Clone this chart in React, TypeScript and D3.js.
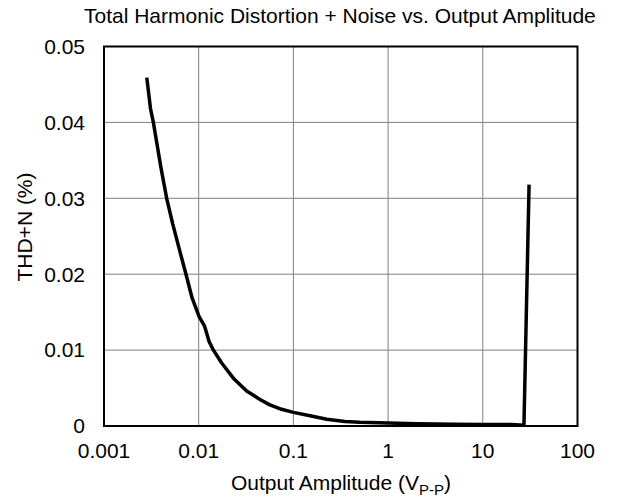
import React from 'react';
import * as d3 from 'd3';

// THD+N curve (amplitude in Vp-p, THD+N in %)
const amplitude = [
  0.00283, 0.0031, 0.00332, 0.004, 0.00459, 0.0053, 0.00624, 0.00734, 0.0085,
  0.0101, 0.0115, 0.0129, 0.0143, 0.0175, 0.0232, 0.0321, 0.0444, 0.0557,
  0.075, 0.1, 0.15, 0.225, 0.35, 0.5, 1, 2, 5, 10, 20, 27.2, 30.8,
];
const thdn = [
  0.0459, 0.0418, 0.04, 0.034, 0.03, 0.0267, 0.0233, 0.02, 0.0169,
  0.0144, 0.0132, 0.0111, 0.01, 0.0083, 0.0063, 0.0046, 0.0035, 0.00282,
  0.0022, 0.0018, 0.00134, 0.00088, 0.0006, 0.00049, 0.0004, 0.0003, 0.00022, 0.0002, 0.0002, 0.0001, 0.0318,
];

const xTicks = [0.001, 0.01, 0.1, 1, 10, 100];
const xTickLabels = ['0.001', '0.01', '0.1', '1', '10', '100'];
const yTicks = [0, 0.01, 0.02, 0.03, 0.04, 0.05];
const yTickLabels = ['0', '0.01', '0.02', '0.03', '0.04', '0.05'];

const W = 618;
const H = 499;
const margin = { top: 46.5, right: 40.5, bottom: 73, left: 104 };
const font = '"Liberation Sans", Arial, sans-serif';
const fs = 21;

export default function App() {
  const innerW = W - margin.left - margin.right;
  const innerH = H - margin.top - margin.bottom;

  const x = d3.scaleLog().domain([0.001, 100]).range([0, innerW]);
  const y = d3.scaleLinear().domain([0, 0.05]).range([innerH, 0]);

  const points: [number, number][] = amplitude.map((a, i) => [a, thdn[i]]);
  const line = d3
    .line<[number, number]>()
    .x((d) => x(d[0]))
    .y((d) => y(d[1]));

  return (
    <svg
      width={W}
      height={H}
      style={{ position: 'absolute', left: 0, top: 0, background: '#fff' }}
      fontFamily={font}
    >
      <text x={84} y={23} fontSize={fs} fill="#000">
        Total Harmonic Distortion + Noise vs. Output Amplitude
      </text>
      <g transform={`translate(${margin.left},${margin.top})`}>
        {/* grid */}
        {xTicks.slice(1, -1).map((t) => (
          <line key={'gx' + t} x1={x(t)} x2={x(t)} y1={0} y2={innerH} stroke="#808080" strokeWidth={1} />
        ))}
        {yTicks.slice(1, -1).map((t) => (
          <line key={'gy' + t} x1={0} x2={innerW} y1={y(t)} y2={y(t)} stroke="#808080" strokeWidth={1} />
        ))}
        <rect x={0} y={0} width={innerW} height={innerH} fill="none" stroke="#000" strokeWidth={2} />

        <path d={line(points) || ''} fill="none" stroke="#000" strokeWidth={3.5} strokeLinejoin="round" />

        {/* tick labels */}
        {xTicks.map((t, i) => (
          <text key={'tx' + t} x={x(t)} y={innerH + 32} fontSize={fs} textAnchor="middle" fill="#000">
            {xTickLabels[i]}
          </text>
        ))}
        {yTicks.map((t, i) => (
          <text
            key={'ty' + t}
            x={-19}
            y={y(t)}
            dy="0.35em"
            fontSize={fs}
            textAnchor="end"
            fill="#000"
          >
            {yTickLabels[i]}
          </text>
        ))}
      </g>

      <text x={341} y={490} fontSize={fs} textAnchor="middle" fill="#000">
        Output Amplitude (V
        <tspan fontSize={15} dy={5}>P-P</tspan>
        <tspan dy={-5}>)</tspan>
      </text>
      <text
        transform="translate(32,227) rotate(-90)"
        fontSize={fs}
        textAnchor="middle"
        fill="#000"
      >
        THD+N (%)
      </text>
    </svg>
  );
}
